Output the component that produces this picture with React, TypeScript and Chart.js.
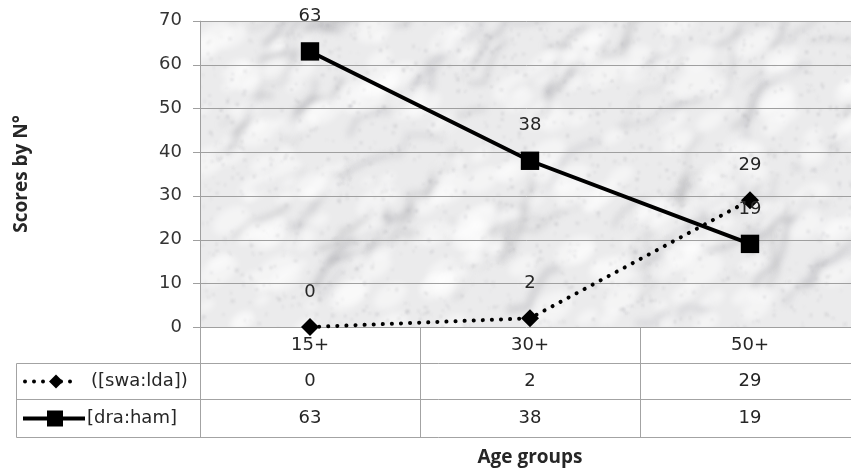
import React, { useEffect, useRef } from "react";
import { Chart, registerables } from "chart.js";

Chart.register(...registerables);

const categories = ["15+", "30+", "50+"];
const swaValues = [0, 2, 29];
const draValues = [63, 38, 19];
const seriesLabels = ["([swa:lda])", "[dra:ham]"];
const yTitle = "Scores by N°";
const xTitle = "Age groups";

const FONT = "'DejaVu Sans', 'Open Sans', sans-serif";
const TFONT = "'Open Sans', 'Noto Sans', sans-serif";
const W = 860;
const H = 470;

function makeMarble(): HTMLCanvasElement {
  const c = document.createElement("canvas");
  c.width = 660;
  c.height = 310;
  const g = c.getContext("2d")!;
  g.fillStyle = "#ebebec";
  g.fillRect(0, 0, c.width, c.height);
  let s = 98765;
  const rnd = () => {
    s = (s * 1103515245 + 12345) % 2147483648;
    return s / 2147483648;
  };
  g.filter = "blur(3px)";
  for (let i = 0; i < 90; i++) {
    let x = rnd() * c.width;
    let y = rnd() * c.height;
    const ang = -0.75 + (rnd() - 0.5) * 0.7;
    g.strokeStyle = `rgba(150,150,156,${0.15 + rnd() * 0.2})`;
    g.lineWidth = 2 + rnd() * 6;
    g.lineCap = "round";
    g.beginPath();
    g.moveTo(x, y);
    const steps = 3 + Math.floor(rnd() * 5);
    for (let k = 0; k < steps; k++) {
      const len = 8 + rnd() * 16;
      const a = ang + (rnd() - 0.5) * 1.6;
      x += Math.cos(a) * len;
      y += Math.sin(a) * len;
      g.lineTo(x, y);
    }
    g.stroke();
  }
  for (let i = 0; i < 220; i++) {
    const x = rnd() * c.width;
    const y = rnd() * c.height;
    const r = 6 + rnd() * 18;
    g.fillStyle = "rgba(255,255,255,0.45)";
    g.beginPath();
    g.ellipse(x, y, r, r * 0.6, -0.6, 0, Math.PI * 2);
    g.fill();
  }
  g.filter = "blur(1px)";
  for (let i = 0; i < 1400; i++) {
    g.fillStyle = `rgba(130,130,138,${0.06 + rnd() * 0.14})`;
    g.fillRect(rnd() * c.width, rnd() * c.height, 1 + rnd() * 3, 1 + rnd() * 3);
  }
  g.filter = "none";
  return c;
}

export default function App() {
  const ref = useRef<HTMLCanvasElement>(null);

  useEffect(() => {
    const canvas = ref.current!;
    const marble = makeMarble();

    const backgroundPlugin = {
      id: "marble",
      beforeDatasetsDraw(chart: any) {
        const { ctx, chartArea } = chart;
        ctx.save();
        ctx.drawImage(marble, chartArea.left, chartArea.top, chartArea.right - chartArea.left, chartArea.bottom - chartArea.top);
        const y = chart.scales.y;
        ctx.strokeStyle = "#9f9f9f";
        ctx.lineWidth = 1;
        y.ticks.forEach((t: any) => {
          const py = Math.round(y.getPixelForValue(t.value)) + 0.5;
          ctx.beginPath();
          ctx.moveTo(chartArea.left - 7, py);
          ctx.lineTo(chartArea.right, py);
          ctx.stroke();
        });
        ctx.beginPath();
        ctx.moveTo(chartArea.left + 0.5, chartArea.top);
        ctx.lineTo(chartArea.left + 0.5, chartArea.bottom);
        ctx.stroke();
        ctx.restore();
      },
    };

    const tablePlugin = {
      id: "table",
      afterDraw(chart: any) {
        const { ctx, chartArea } = chart;
        const x = chart.scales.x;
        const left = chartArea.left;
        const bottom = chartArea.bottom;
        const r0 = Math.round(bottom) + 0.5;
        const r1 = r0 + 36;
        const r2 = r1 + 36;
        const r3 = r2 + 38;
        const tl = 16.5;
        ctx.save();
        ctx.strokeStyle = "#a3a3a3";
        ctx.lineWidth = 1;
        const hl = (yy: number, x0: number) => {
          ctx.beginPath();
          ctx.moveTo(x0, yy);
          ctx.lineTo(W, yy);
          ctx.stroke();
        };
        hl(r1, tl);
        hl(r2, tl);
        hl(r3, tl);
        const vl = (xx: number, y0: number, y1: number) => {
          ctx.beginPath();
          ctx.moveTo(xx, y0);
          ctx.lineTo(xx, y1);
          ctx.stroke();
        };
        vl(tl, r1, r3);
        vl(Math.round(left) + 0.5, r0, r3);
        const colW = (chartArea.right - chartArea.left) / categories.length;
        for (let i = 1; i < categories.length; i++) {
          vl(Math.round(left + colW * i) + 0.5, r0, r3);
        }
        ctx.fillStyle = "#262626";
        ctx.font = `18px ${FONT}`;
        ctx.textAlign = "center";
        ctx.textBaseline = "middle";
        categories.forEach((c, i) => {
          const cx = x.getPixelForValue(i);
          ctx.fillText(c, cx, (r0 + r1) / 2);
          ctx.fillText(String(swaValues[i]), cx, (r1 + r2) / 2);
          ctx.fillText(String(draValues[i]), cx, (r2 + r3) / 2);
        });
        const y1 = (r1 + r2) / 2;
        const y2 = (r2 + r3) / 2;
        ctx.fillStyle = "#000";
        for (let k = 0; k < 6; k++) {
          const dx = 25 + k * 9;
          if (Math.abs(dx - 52) < 5) continue;
          ctx.beginPath();
          ctx.arc(dx, y1, 2, 0, Math.PI * 2);
          ctx.fill();
        }
        ctx.beginPath();
        ctx.moveTo(56, y1 - 7);
        ctx.lineTo(63, y1);
        ctx.lineTo(56, y1 + 7);
        ctx.lineTo(49, y1);
        ctx.closePath();
        ctx.fill();
        ctx.strokeStyle = "#000";
        ctx.lineWidth = 4;
        ctx.beginPath();
        ctx.moveTo(23, y2);
        ctx.lineTo(85, y2);
        ctx.stroke();
        ctx.fillRect(47, y2 - 8, 16, 16);
        ctx.fillStyle = "#262626";
        ctx.textAlign = "left";
        ctx.fillText(seriesLabels[0], 91, y1);
        ctx.fillText(seriesLabels[1], 87, y2);
        ctx.font = `bold 19px ${TFONT}`;
        ctx.textAlign = "center";
        ctx.fillText(xTitle, (chartArea.left + chartArea.right) / 2, 458);
        ctx.save();
        ctx.translate(22, (chartArea.top + chartArea.bottom) / 2);
        ctx.rotate(-Math.PI / 2);
        ctx.fillText(yTitle, 0, 0);
        ctx.restore();
        ctx.restore();
      },
    };

    const labelPlugin = {
      id: "pointLabels",
      afterDatasetsDraw(chart: any) {
        const { ctx } = chart;
        ctx.save();
        ctx.fillStyle = "#262626";
        ctx.font = `18px ${FONT}`;
        ctx.textAlign = "center";
        ctx.textBaseline = "middle";
        chart.data.datasets.forEach((ds: any, di: number) => {
          const meta = chart.getDatasetMeta(di);
          meta.data.forEach((pt: any, i: number) => {
            ctx.fillText(String(ds.data[i]), pt.x, pt.y - 35);
          });
        });
        ctx.restore();
      },
    };

    const chart = new Chart(canvas, {
      type: "line",
      data: {
        labels: categories,
        datasets: [
          {
            label: seriesLabels[0],
            data: swaValues,
            borderColor: "#000",
            backgroundColor: "#000",
            borderWidth: 4,
            borderDash: [0.1, 9],
            borderCapStyle: "round",
            pointStyle: "rectRot",
            pointRadius: 9,
            pointBorderWidth: 0,
            pointBackgroundColor: "#000",
            tension: 0,
            clip: false,
          },
          {
            label: seriesLabels[1],
            data: draValues,
            borderColor: "#000",
            backgroundColor: "#000",
            borderWidth: 4,
            pointStyle: "rect",
            pointRadius: 13,
            pointBorderWidth: 0,
            pointBackgroundColor: "#000",
            tension: 0,
            clip: false,
          },
        ],
      },
      options: {
        animation: false,
        responsive: false,
        maintainAspectRatio: false,
        devicePixelRatio: 1,
        layout: { autoPadding: false, padding: { top: 20, bottom: 143, left: 0, right: 0 } },
        plugins: { legend: { display: false }, tooltip: { enabled: false } },
        scales: {
          x: {
            type: "category",
            display: false,
            offset: true,
          },
          y: {
            min: 0,
            max: 70,
            ticks: {
              stepSize: 10,
              color: "#333",
              font: { size: 18, family: FONT },
              padding: 10,
            },
            grid: { display: false },
            border: { display: false },
            afterFit(scale: any) {
              scale.width = 200;
            },
          },
        },
      },
      plugins: [backgroundPlugin, labelPlugin, tablePlugin],
    } as any);

    return () => chart.destroy();
  }, []);

  return (
    <div style={{ position: "fixed", left: 0, top: 0, width: 851, height: 470, overflow: "hidden", background: "#fff" }}>
      <div style={{ width: W, height: H }}>
        <canvas ref={ref} width={W} height={H} style={{ display: "block", width: W, height: H }} />
      </div>
    </div>
  );
}
